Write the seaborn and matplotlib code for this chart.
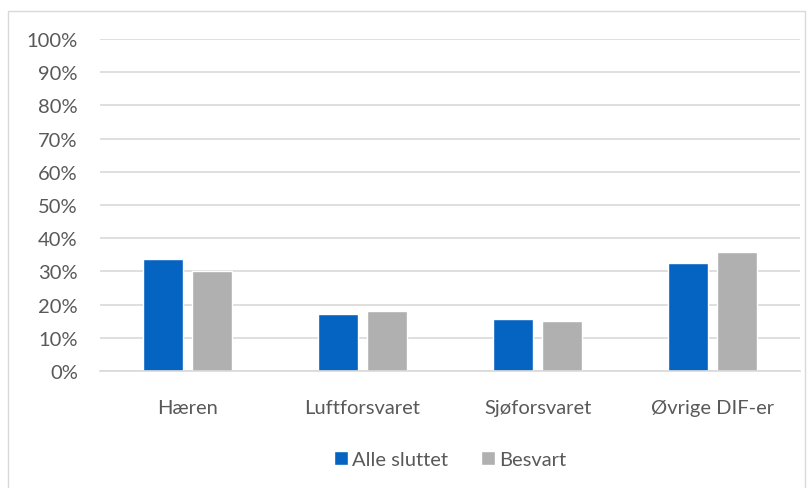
import matplotlib
matplotlib.use("Agg")
import matplotlib.pyplot as plt
import seaborn as sns
import pandas as pd
from matplotlib.patches import Rectangle
from matplotlib.ticker import PercentFormatter

categories = ["Hæren", "Luftforsvaret", "Sjøforsvaret", "Øvrige DIF-er"]
alle_sluttet = [33.8, 17.3, 15.8, 32.4]
besvart = [30.1, 18.2, 15.1, 35.9]
series = ["Alle sluttet", "Besvart"]
colors = ["#0563C1", "#B0B0B0"]

df = pd.DataFrame({
    "kategori": categories * 2,
    "serie": [series[0]] * 4 + [series[1]] * 4,
    "andel": alle_sluttet + besvart,
})

sns.set_style("white")
plt.rcParams["font.family"] = ["Lato", "DejaVu Sans"]
text_color = "#595959"
grid_color = "#D9D9D9"

fig = plt.figure(figsize=(8.11, 4.89), dpi=100)
ax = fig.add_axes([100 / 811, 1 - 372 / 489, 700 / 811, 332 / 489])

sns.barplot(data=df, x="kategori", y="andel", hue="serie", palette=colors,
            width=0.56, gap=0.2, ax=ax, saturation=1, legend=True)

ax.set_ylim(0, 100)
ax.set_yticks(range(0, 101, 10))
ax.yaxis.set_major_formatter(PercentFormatter(decimals=0))
ax.grid(axis="y", color=grid_color, linewidth=1.2)
ax.set_axisbelow(True)
for s in ["top", "right", "left"]:
    ax.spines[s].set_visible(False)
ax.spines["bottom"].set_color(grid_color)
ax.spines["bottom"].set_linewidth(1.2)
ax.tick_params(axis="both", length=0, labelsize=14.5, labelcolor=text_color)
ax.tick_params(axis="y", pad=16)
ax.tick_params(axis="x", pad=20)
ax.set_xlabel("")
ax.set_ylabel("")

ax.legend(loc="upper center", bbox_to_anchor=(0.5, -0.185), ncol=2, frameon=False,
          fontsize=14.5, labelcolor=text_color, handlelength=0.7, handleheight=0.7,
          handletextpad=0.2, columnspacing=1.6)

# outer chart border
fig.patches.append(Rectangle((8 / 811, -0.05), 797 / 811, 1 - 12 / 489 + 0.05,
                             transform=fig.transFigure, fill=False,
                             edgecolor=grid_color, linewidth=1))

fig.savefig("out.png", dpi=100)
